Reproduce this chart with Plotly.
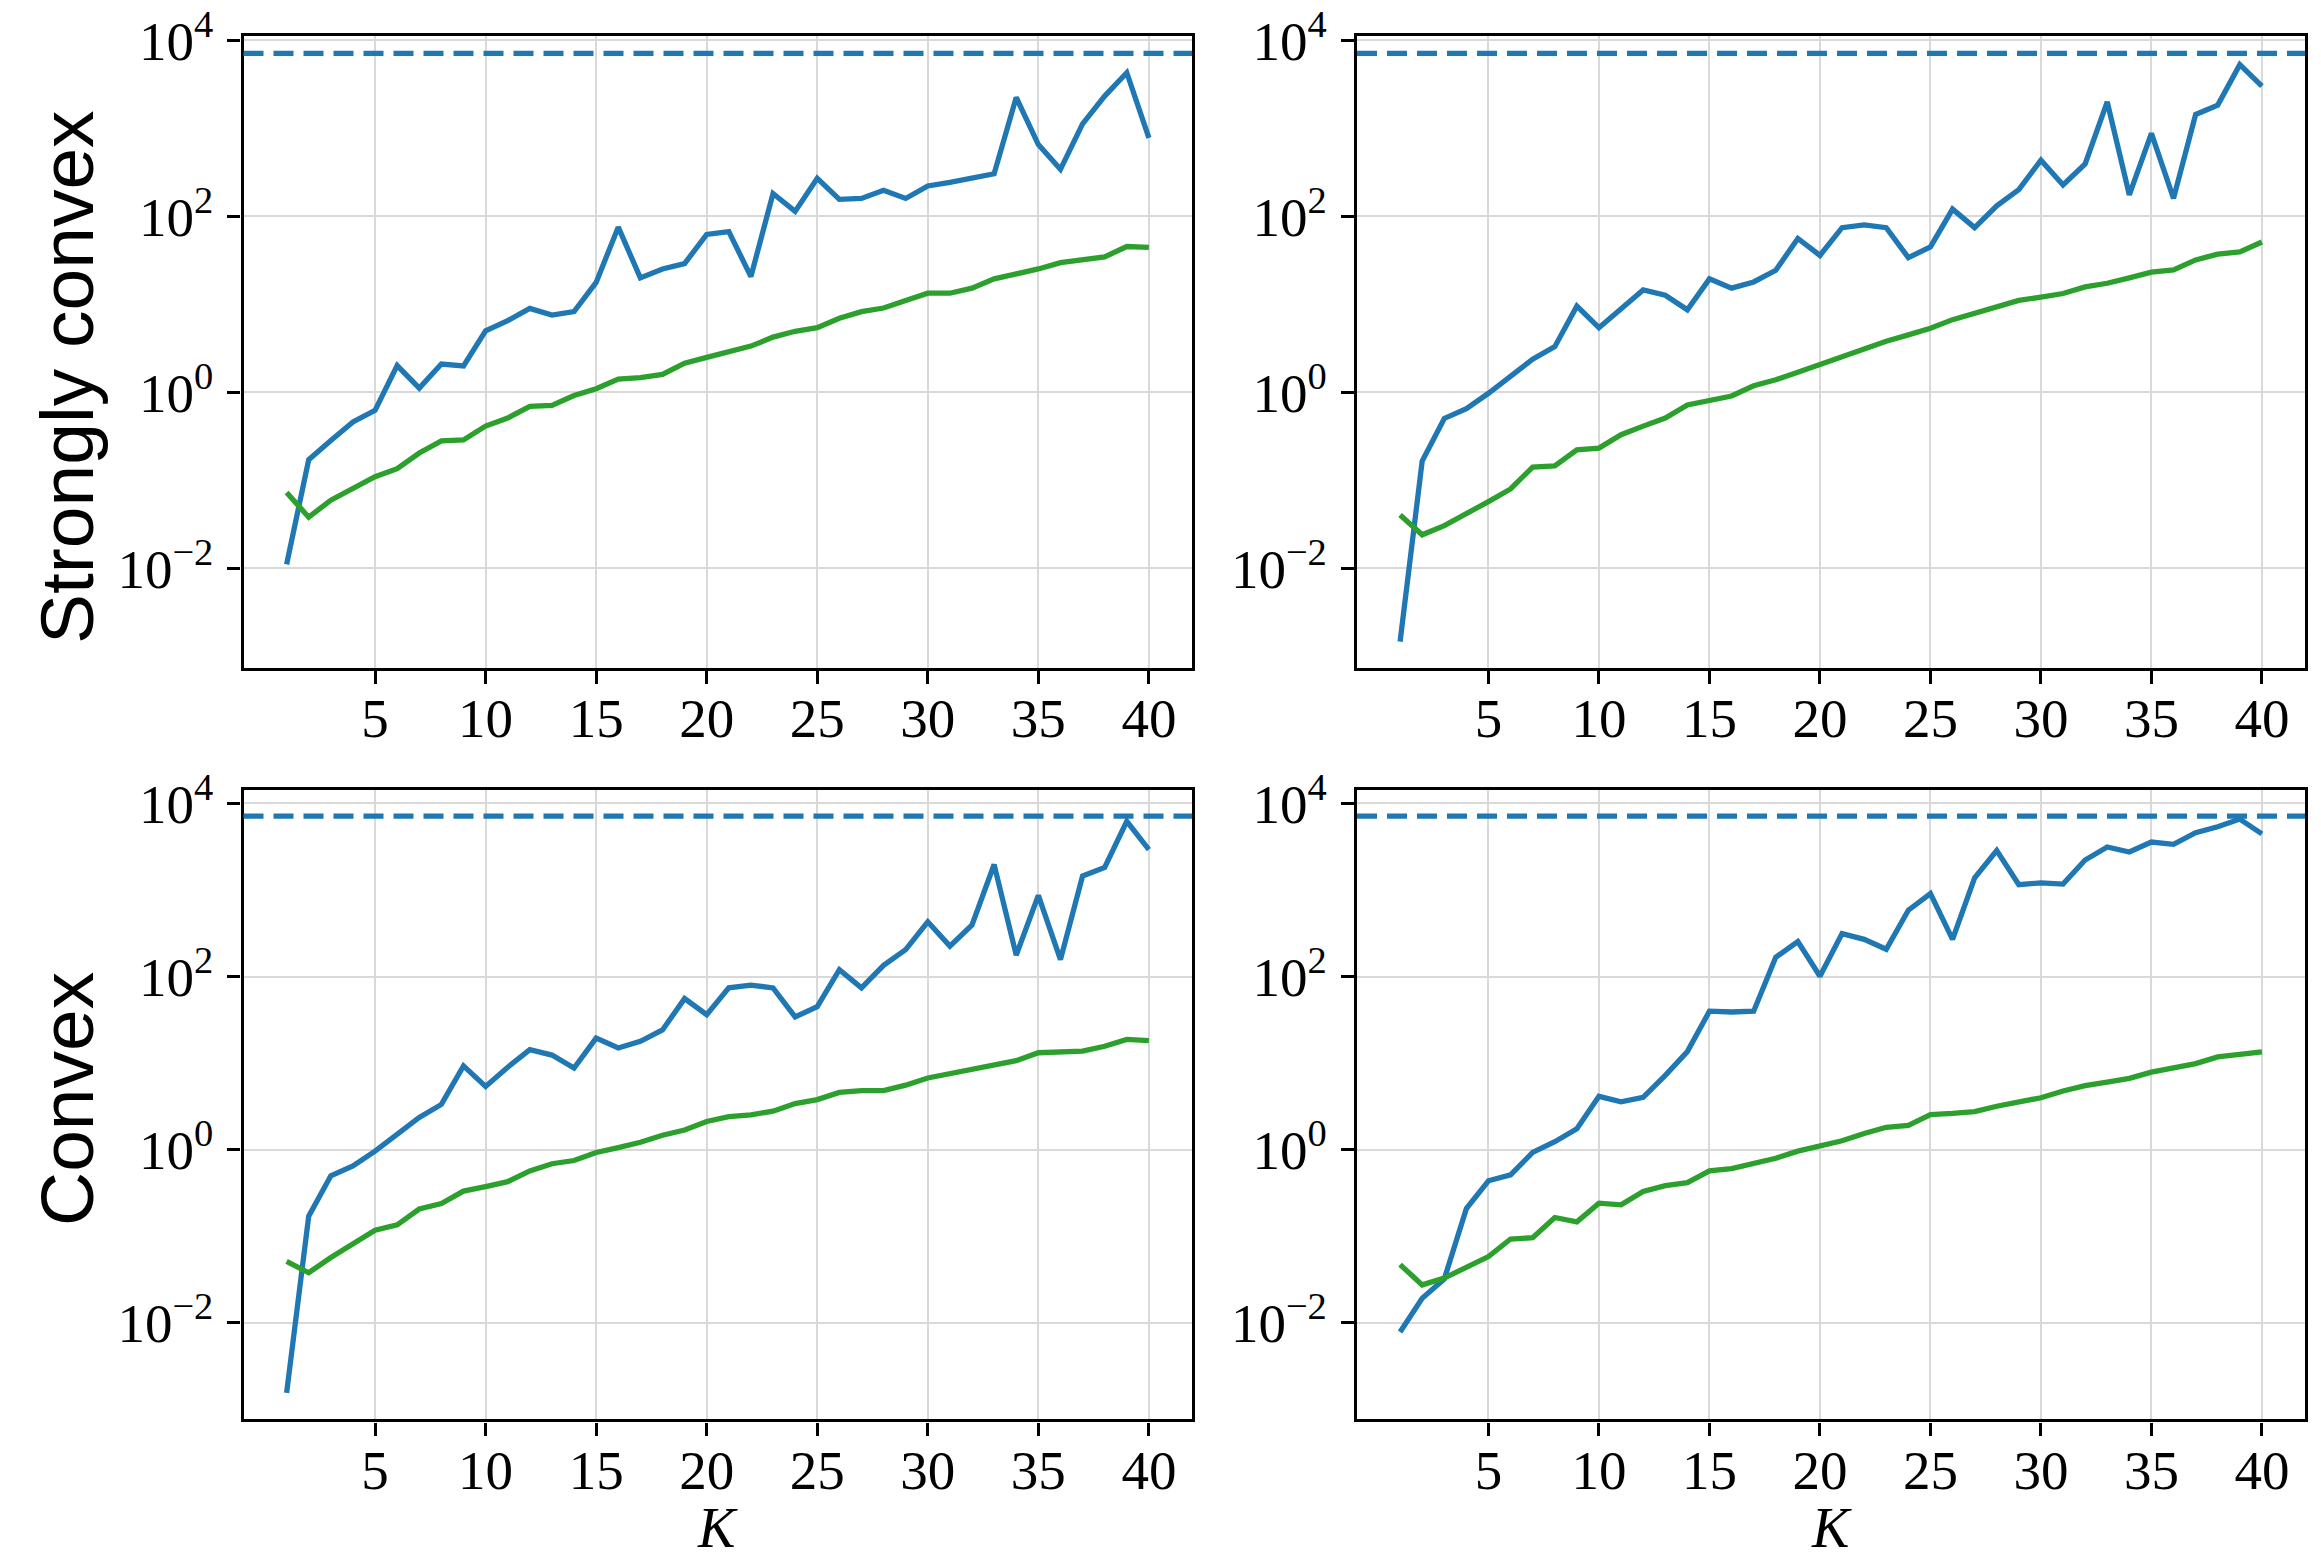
import plotly.graph_objects as go

K = list(range(1, 41))

# Strongly convex, left column
sc_left_blue = [0.0111, 0.172, 0.284, 0.461, 0.625, 2.02, 1.12, 2.10, 2.00, 5.0,
                6.55, 9.0, 7.55, 8.3, 17.8, 75.5, 20.0, 25.3, 29.1, 62.5,
                67.1, 20.7, 182, 114, 271, 156, 160, 198, 160, 222,
                244, 275, 305, 2250, 655, 343, 1125, 2330, 4290, 781]
sc_left_green = [0.0728, 0.0382, 0.0597, 0.080, 0.110, 0.136, 0.205, 0.281, 0.288, 0.414,
                 0.512, 0.695, 0.711, 0.921, 1.10, 1.42, 1.47, 1.60, 2.15, 2.50,
                 2.85, 3.36, 4.25, 4.95, 5.43, 6.95, 8.28, 9.10, 11.1, 13.4,
                 13.4, 15.3, 19.5, 22.0, 25.3, 29.8, 32.7, 34.7, 45.5, 44.5]
# Strongly convex, right column
sc_right_blue = [0.00147, 0.166, 0.506, 0.655, 0.977, 1.53, 2.39, 3.31, 9.55, 5.43,
                 9.10, 14.6, 12.7, 8.69, 19.5, 15.3, 18.0, 24.4, 56.2, 36.0,
                 74.5, 80.0, 74.5, 34.0, 45.0, 121, 74.5, 132, 202, 435,
                 228, 395, 2000, 176, 879, 160, 1440, 1840, 5300, 3020]
sc_right_green = [0.0405, 0.0241, 0.0306, 0.0414, 0.0575, 0.0800, 0.142, 0.146, 0.222, 0.233,
                  0.331, 0.414, 0.512, 0.719, 0.819, 0.910, 1.19, 1.39, 1.70, 2.10,
                  2.56, 3.09, 3.82, 4.50, 5.37, 6.71, 8.00, 9.31, 11.1, 12.1,
                  13.3, 15.8, 17.4, 20.0, 23.3, 24.7, 32.0, 37.3, 39.5, 51.2]
# Convex, left column
cv_left_blue = [0.00156, 0.171, 0.500, 0.650, 0.965, 1.54, 2.36, 3.34, 9.31, 5.38,
                8.98, 14.3, 12.4, 8.77, 19.5, 15.0, 17.9, 24.2, 55.7, 36.3,
                74.1, 79.8, 74.1, 34.2, 45.0, 120, 74.1, 135, 205, 429,
                225, 394, 1970, 177, 867, 157, 1450, 1820, 6210, 2920]
cv_left_green = [0.0513, 0.0380, 0.0570, 0.0835, 0.118, 0.136, 0.207, 0.239, 0.333, 0.376,
                 0.428, 0.570, 0.690, 0.751, 0.931, 1.06, 1.22, 1.47, 1.69, 2.12,
                 2.42, 2.53, 2.79, 3.42, 3.80, 4.60, 4.83, 4.83, 5.57, 6.75,
                 7.60, 8.26, 9.31, 10.7, 13.2, 13.6, 13.8, 15.7, 18.8, 18.2]
# Convex, right column
cv_right_blue = [0.00787, 0.0193, 0.0322, 0.209, 0.438, 0.513, 0.931, 1.24, 1.75, 4.14,
                 3.58, 4.04, 7.24, 13.6, 39.9, 39.0, 39.9, 167, 254, 101,
                 314, 269, 207, 585, 910, 269, 1380, 2860, 1150, 1210,
                 1170, 2220, 3140, 2750, 3580, 3370, 4600, 5380, 6590, 4450]
cv_right_green = [0.0472, 0.0275, 0.0330, 0.0445, 0.0585, 0.0931, 0.0964, 0.165, 0.147, 0.242,
                  0.231, 0.330, 0.385, 0.418, 0.570, 0.605, 0.683, 0.798, 0.964, 1.10,
                  1.27, 1.54, 1.82, 1.91, 2.54, 2.63, 2.76, 3.18, 3.50, 3.99,
                  4.77, 5.51, 6.06, 6.67, 7.87, 8.87, 9.88, 11.8, 12.5, 13.5]

upper_bound = 7130

x_tickvals = [5, 10, 15, 20, 25, 30, 35, 40]
x_ticktext = ["5", "10", "15", "20", "25", "30", "35", "40"]
y_tickvals = [1e-2, 1e0, 1e2, 1e4]
y_ticktext = ["10<sup>\u22122</sup>", "10<sup>0</sup>", "10<sup>2</sup>", "10<sup>4</sup>"]
row_labels = ["Strongly convex", "Convex"]
x_label = "<i>K</i>"

BLUE = "#1f77b4"
GREEN = "#2ca02c"
W, H = 2321, 1561
LW = 5.3

panels = [
    (sc_left_blue, sc_left_green, "x", "y"),
    (sc_right_blue, sc_right_green, "x2", "y2"),
    (cv_left_blue, cv_left_green, "x3", "y3"),
    (cv_right_blue, cv_right_green, "x4", "y4"),
]

xdom_left = [243.5 / W, 1192 / W]
xdom_right = [1357 / W, 2305 / W]
ydom_top = [(H - 667.5) / H, (H - 36) / H]
ydom_bot = [(H - 1419.4) / H, (H - 790) / H]
yr_top = [-3.126, 4.05]
yr_bot = [-3.114, 4.155]

fig = go.Figure()
for blue, green, xa, ya in panels:
    fig.add_trace(go.Scatter(x=K, y=blue, mode="lines", xaxis=xa, yaxis=ya,
                             line=dict(color=BLUE, width=LW), showlegend=False))
    fig.add_trace(go.Scatter(x=K, y=green, mode="lines", xaxis=xa, yaxis=ya,
                             line=dict(color=GREEN, width=LW), showlegend=False))
    fig.add_shape(type="line", xref=f"{xa} domain", yref=ya, x0=0, x1=1,
                  y0=upper_bound, y1=upper_bound, layer="above",
                  line=dict(color=BLUE, width=LW, dash="20px,10px"))

tickfont = dict(family="Liberation Serif", size=55, color="black")
common_x = dict(range=[-0.95, 41.95], tickmode="array", tickvals=x_tickvals, ticktext=x_ticktext,
                showline=True, linecolor="black", linewidth=3.3, mirror=True,
                ticks="outside", ticklen=13, tickwidth=3, tickcolor="black",
                showgrid=True, gridcolor="#d9d9d9", gridwidth=2, zeroline=False,
                tickfont=tickfont, automargin=False, ticklabelstandoff=-13)
common_y = dict(type="log", tickmode="array", tickvals=y_tickvals, ticktext=y_ticktext,
                showline=True, linecolor="black", linewidth=3.3, mirror=True,
                ticks="outside", ticklen=13, tickwidth=3, tickcolor="black",
                showgrid=True, gridcolor="#d9d9d9", gridwidth=2, zeroline=False,
                tickfont=tickfont, ticklabelstandoff=3, automargin=False)

fig.update_layout(
    width=W, height=H, autosize=False,
    margin=dict(l=0, r=0, t=0, b=0, autoexpand=False),
    paper_bgcolor="white", plot_bgcolor="white",
    xaxis=dict(domain=xdom_left, anchor="y", **common_x),
    yaxis=dict(domain=ydom_top, anchor="x", range=yr_top, **common_y),
    xaxis2=dict(domain=xdom_right, anchor="y2", **common_x),
    yaxis2=dict(domain=ydom_top, anchor="x2", range=yr_top, **common_y),
    xaxis3=dict(domain=xdom_left, anchor="y3", **common_x),
    yaxis3=dict(domain=ydom_bot, anchor="x3", range=yr_bot, **common_y),
    xaxis4=dict(domain=xdom_right, anchor="y4", **common_x),
    yaxis4=dict(domain=ydom_bot, anchor="x4", range=yr_bot, **common_y),
)

# Row labels
fig.add_annotation(text=row_labels[0], xref="paper", yref="paper", x=67 / W, y=(H - 377) / H,
                   xanchor="center", yanchor="middle", textangle=-90, showarrow=False,
                   font=dict(family="Liberation Sans", size=75, color="black"))
fig.add_annotation(text=row_labels[1], xref="paper", yref="paper", x=67 / W, y=(H - 1099) / H,
                   xanchor="center", yanchor="middle", textangle=-90, showarrow=False,
                   font=dict(family="Liberation Sans", size=75, color="black"))
# x-axis labels
for xc in [(xdom_left[0] + xdom_left[1]) / 2, (xdom_right[0] + xdom_right[1]) / 2]:
    fig.add_annotation(text=x_label, xref="paper", yref="paper", x=xc, y=0,
                       xanchor="center", yanchor="bottom", showarrow=False,
                       font=dict(family="Liberation Serif", size=56, color="black"))

fig.write_html(
    "out.html",
    config={"displayModeBar": False},
    post_script="document.body.style.margin='0px';document.body.style.overflow='hidden';",
)
